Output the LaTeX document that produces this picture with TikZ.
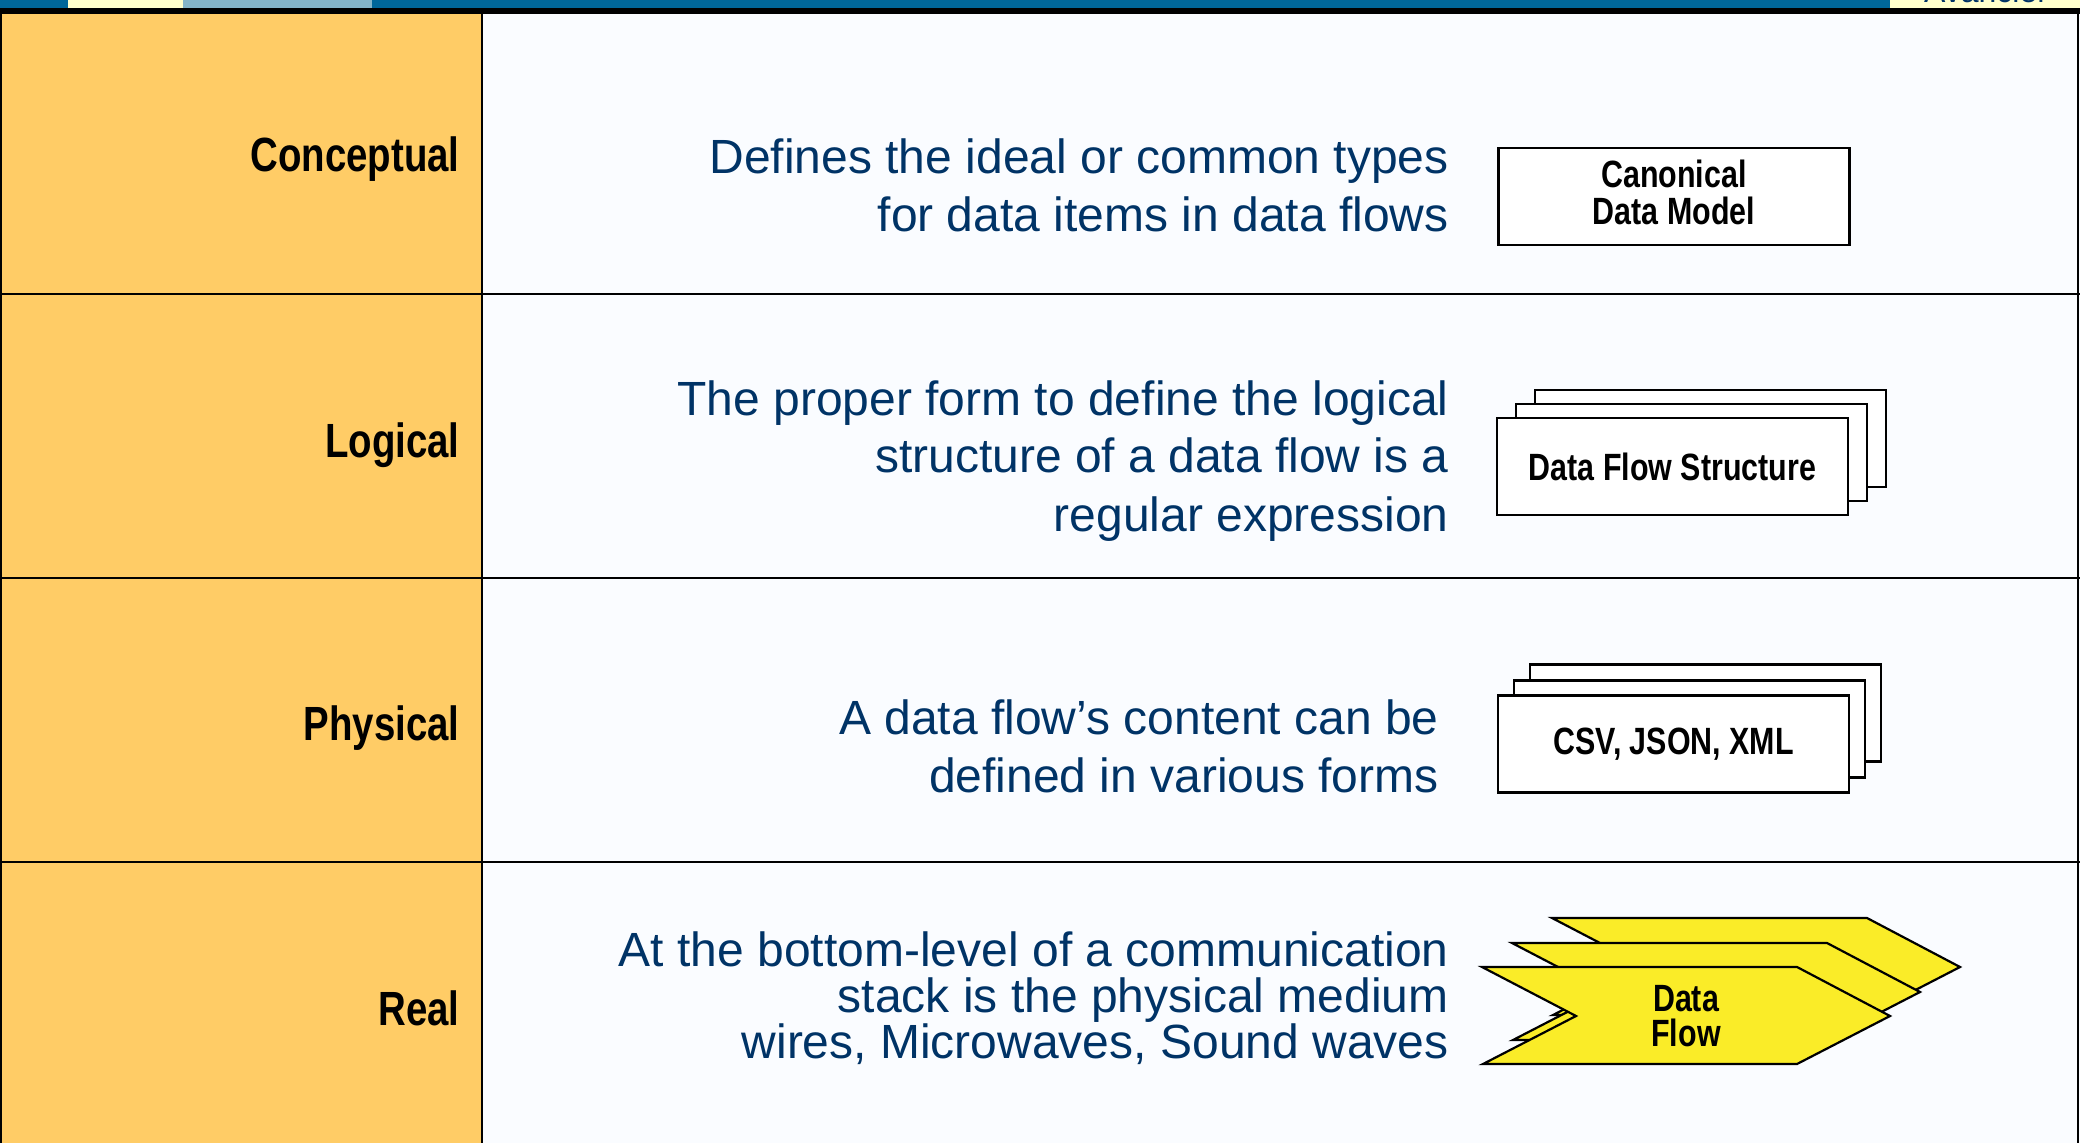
\documentclass[tikz,border=0pt]{standalone}
\usepackage{fontspec}
\setmainfont{Liberation Sans}
\newfontfamily\nbfont[FakeStretch=0.8]{Liberation Sans}
\definecolor{topblue}{RGB}{0,102,153}
\definecolor{topgrey}{RGB}{132,180,200}
\definecolor{topyellow}{RGB}{255,255,204}
\definecolor{leftcol}{RGB}{255,204,102}
\definecolor{bgwhite}{RGB}{250,252,255}
\definecolor{txtblue}{RGB}{0,51,102}
\definecolor{flowyellow}{RGB}{250,236,40}
\begin{document}
\begin{tikzpicture}[x=0.5pt,y=-0.5pt,
  rowlabel/.style={anchor=base east, inner sep=0pt, font=\nbfont\bfseries\fontsize{24}{28}\selectfont},
  desc/.style={anchor=base east, align=right, inner sep=0pt, text=txtblue, font=\fontsize{24}{29}\selectfont},
  descb/.style={desc, font=\fontsize{24}{23}\selectfont},
  box/.style={draw, line width=1.25pt, fill=white, minimum width=175.5pt, minimum height=48.5pt, inner sep=0pt, align=center, font=\nbfont\bfseries\fontsize{19}{18.5}\selectfont},
  chev/.style={draw, line width=1.1pt, fill=flowyellow, line join=miter},
  rule/.style={line width=1.4pt}
]
\useasboundingbox (0,0) rectangle (2080,1143);
% background
\fill[bgwhite] (0,0) rectangle (2080,1143);
% top bar
\fill[topblue] (0,0) rectangle (2080,8);
\fill[topyellow] (68,0) rectangle (183,8);
\fill[topgrey] (183,0) rectangle (372,8);
\fill[topyellow] (1890,0) rectangle (2080,9);
\begin{scope}
  \clip (1890,0) rectangle (2080,8);
  \node[anchor=base, inner sep=0pt, text=txtblue, font=\fontsize{16}{18}\selectfont] (brand) at (1986,3) {Avancier};
\end{scope}
\fill[black] (0,8) rectangle (2080,14);
% left column
\fill[leftcol] (0,14) rectangle (482,1143);
% grid lines
\draw[rule] (1,14) -- (1,1143);
\draw[rule] (2078,14) -- (2078,1143);
\draw[rule] (482,14) -- (482,1143);
\draw[rule] (0,294) -- (2080,294);
\draw[rule] (0,578) -- (2080,578);
\draw[rule] (0,862) -- (2080,862);
% row labels
\node[rowlabel] (lconc) at (460,172) {Conceptual};
\node[rowlabel] (llog) at (460,458) {Logical};
\node[rowlabel] (lphys) at (460,740) {Physical};
\node[rowlabel] (lreal) at (460,1025) {Real};
% descriptions (anchored at the baseline of the last line)
\node[desc] (dconc) at (1449,232) {Defines the ideal or common types\\for data items in data flows};
\node[desc] (dlog) at (1449,531) {The proper form to define the logical\\structure of a data flow is a\\regular expression};
\node[desc] (dphys) at (1439,792) {A data flow’s content can be\\defined in various forms};
\node[descb] (dreal) at (1449,1058) {At the bottom-level of a communication\\stack is the physical medium\\wires, Microwaves, Sound waves};
% conceptual box
\node[box, text depth=4pt] (cdm) at (1674,196.5) {Canonical\\Data Model};
% logical stack
\node[box] (dfs3) at (1710.5,438.5) {};
\node[box] (dfs2) at (1691.5,452.5) {};
\node[box] (dfs1) at (1672.5,466.5) {Data Flow Structure};
% physical stack
\node[box] (csv3) at (1705.5,713) {};
\node[box] (csv2) at (1689.5,729) {};
\node[box] (csv1) at (1673.5,744) {CSV, JSON, XML};
% real: data flow chevrons
\draw[chev] (1552,918) -- (1867,918) -- (1960,967) -- (1867,1015) -- (1553,1015) -- (1646,967) -- cycle;
\draw[chev] (1512,943) -- (1827,943) -- (1920,992) -- (1827,1040) -- (1513,1040) -- (1606,992) -- cycle;
\draw[chev] (1482,967) -- (1797,967) -- (1890,1016) -- (1797,1064) -- (1483,1064) -- (1576,1016) -- cycle;
\node[align=center, inner sep=0pt, font=\nbfont\bfseries\fontsize{19}{17.5}\selectfont] (df) at (1686,1016) {Data\\Flow};
\end{tikzpicture}
\end{document}
